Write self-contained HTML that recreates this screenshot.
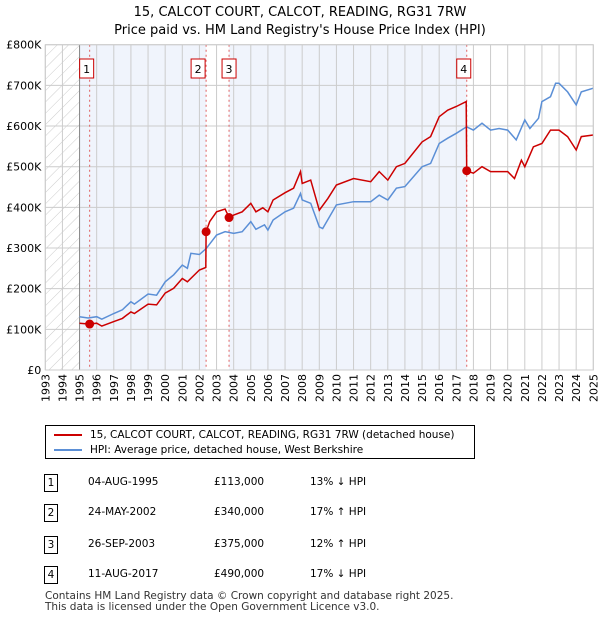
<!DOCTYPE html>
<html><head><meta charset="utf-8"><style>
body{margin:0;background:#fff;font-family:"DejaVu Sans","Liberation Sans",sans-serif;}
#wrap{position:relative;width:600px;height:620px;overflow:hidden}
svg text{font-family:"DejaVu Sans","Liberation Sans",sans-serif}
</style></head><body><div id="wrap">
<svg id="chart" width="600" height="620">
<defs><pattern id="hatch" width="8" height="8" patternUnits="userSpaceOnUse" patternTransform="rotate(45)"><line x1="0" y1="0" x2="0" y2="8" stroke="#ccc" stroke-width="1"/></pattern></defs>
<text x="300" y="16" text-anchor="middle" font-size="13">15, CALCOT COURT, CALCOT, READING, RG31 7RW</text>
<text x="300" y="34" text-anchor="middle" font-size="13">Price paid vs. HM Land Registry's House Price Index (HPI)</text>
<g id="plot"></g>
</svg>
<div style="position:absolute;left:45px;top:425px;width:428px;height:32px;border:1px solid #000;font-size:10.5px">
<div style="position:absolute;left:8px;top:3px;white-space:nowrap"><span style="display:inline-block;width:28px;height:2px;background:#cc0000;vertical-align:middle;margin-right:8px"></span>15, CALCOT COURT, CALCOT, READING, RG31 7RW (detached house)</div>
<div style="position:absolute;left:8px;top:18px;white-space:nowrap"><span style="display:inline-block;width:28px;height:2px;background:#5b8fd6;vertical-align:middle;margin-right:8px"></span>HPI: Average price, detached house, West Berkshire</div>
</div>
<div id="table" style="font-size:10.5px"></div>
<div style="position:absolute;left:45px;top:591px;font-size:10.5px;color:#333;line-height:11px">Contains HM Land Registry data © Crown copyright and database right 2025.<br>This data is licensed under the Open Government Licence v3.0.</div>
</div>
<script>
const hpiYears=[1995,1995.5,1996,1996.3,1997,1997.5,1998,1998.2,1999,1999.5,2000,2000.5,2001,2001.3,2001.5,2002,2002.4,2003,2003.5,2004,2004.5,2005,2005.3,2005.8,2006,2006.3,2007,2007.5,2007.9,2008,2008.5,2009,2009.2,2010,2011,2012,2012.5,2013,2013.5,2014,2015,2015.5,2016,2016.5,2017,2017.6,2018,2018.5,2019,2019.5,2020,2020.5,2021,2021.3,2021.8,2022,2022.5,2022.8,2023,2023.5,2024,2024.3,2025];
const hpiValues=[131,128,131,125,139,148,168,162,187,184,217,234,258,250,287,284,299,332,340,336,340,365,346,357,344,369,389,398,434,418,410,352,348,406,414,414,430,418,447,451,500,508,557,570,582,598,590,607,590,594,590,566,615,594,619,660,672,705,705,684,652,684,693];
const redYears=[1995,1995.59,1996,1996.3,1997,1997.5,1998,1998.2,1999,1999.5,2000,2000.5,2001,2001.3,2002,2002.37,2002.39,2002.6,2003,2003.5,2003.73,2004,2004.5,2005,2005.3,2005.7,2006,2006.3,2007,2007.5,2007.9,2008,2008.5,2009,2009.5,2010,2011,2012,2012.5,2013,2013.5,2014,2015,2015.5,2016,2016.5,2017,2017.58,2017.61,2018,2018.5,2019,2020,2020.4,2020.8,2021,2021.5,2022,2022.5,2023,2023.5,2024,2024.3,2025];
const redValues=[115,113,115,108,119,127,143,139,162,160,189,201,225,217,246,252,340,365,389,396,375,381,389,410,389,399,389,418,436,447,488,459,467,393,422,455,471,463,488,467,500,508,561,574,623,639,648,660,490,484,500,488,488,471,516,500,549,557,590,590,574,541,574,578];
const saleLabels=["1","2","3","4"];
const saleYears=[1995.59,2002.39,2003.73,2017.61];
const salePrices=[113,340,375,490];
const saleDates=["04-AUG-1995","24-MAY-2002","26-SEP-2003","11-AUG-2017"];
const salePriceText=["£113,000","£340,000","£375,000","£490,000"];
const saleHpiText=["13% ↓ HPI","17% ↑ HPI","12% ↑ HPI","17% ↓ HPI"];
const yTicks=[0,100,200,300,400,500,600,700,800];
const yTickLabels=["£0","£100K","£200K","£300K","£400K","£500K","£600K","£700K","£800K"];
const X0=45.3,X1=593.3,Y0=370,Y1=44.7;
const xs=y=>X0+(y-1993)/32*(X1-X0);
const ys=v=>Y0-(v/800)*(Y0-Y1);
const NS="http://www.w3.org/2000/svg";
const g=document.getElementById('plot');
function mk(t,a,p){const e=document.createElementNS(NS,t);for(const k in a)e.setAttribute(k,a[k]);(p||g).appendChild(e);return e;}
let e;
e=mk('rect',{x:xs(1993),y:Y1,width:xs(1995)-xs(1993),height:Y0-Y1,fill:'url(#hatch)'});

e=mk('rect',{x:xs(1995),y:Y1,width:xs(saleYears[1])-xs(1995),height:Y0-Y1,fill:'#f0f4fc'});

e=mk('rect',{x:xs(saleYears[2]),y:Y1,width:xs(saleYears[3])-xs(saleYears[2]),height:Y0-Y1,fill:'#f0f4fc'});

for(let yr=1993;yr<=2025;yr++){
 e=mk('line',{x1:xs(yr),x2:xs(yr),y1:Y1,y2:Y0,stroke:'#cccccc','stroke-width':1});
 
 e=mk('text',{transform:`translate(${xs(yr)+4},${Y0+4}) rotate(-90)`,'text-anchor':'end','font-size':11});
 e.textContent=yr;
 
}
yTicks.forEach((v,i)=>{
 e=mk('line',{x1:X0,x2:X1,y1:ys(v),y2:ys(v),stroke:'#cccccc','stroke-width':1});
 
 e=mk('text',{x:X0-4,y:ys(v)+4,'text-anchor':'end','font-size':11});
 e.textContent=yTickLabels[i];
 
});
e=mk('line',{x1:xs(1995),x2:xs(1995),y1:Y1,y2:Y0,stroke:'#888','stroke-width':1});

saleYears.forEach((y,i)=>{
 e=mk('line',{x1:xs(y),x2:xs(y),y1:Y1,y2:Y0,stroke:'#e06060','stroke-width':1,'stroke-dasharray':'2,3'});
 
});
function path(xa,va){return xa.map((x,i)=>(i?'L':'M')+xs(x).toFixed(1)+','+ys(va[i]).toFixed(1)).join('');}
e=mk('path',{d:path(hpiYears,hpiValues),fill:'none',stroke:'#5b8fd6','stroke-width':1.5});

e=mk('path',{d:path(redYears,redValues),fill:'none',stroke:'#cc0000','stroke-width':1.5});

saleYears.forEach((y,i)=>{
 e=mk('circle',{cx:xs(y),cy:ys(salePrices[i]),r:4.5,fill:'#cc0000'});
 
 let left=i==1?xs(y)-15:xs(y)-7;
 if(i==0)left=xs(y)-10; if(i==3)left=xs(y)-10;
 e=mk('rect',{x:left,y:59,width:14,height:19,fill:'#fff',stroke:'#cc0000','stroke-width':1});
 
 e=mk('text',{x:left+7,y:73,'text-anchor':'middle','font-size':11});
 e.textContent=saleLabels[i];
 
});
e=mk('rect',{x:X0,y:Y1,width:X1-X0,height:Y0-Y1,fill:'none',stroke:'#ccc'});

const tb=document.getElementById('table');
const rowY=[474,504,536,566];
saleLabels.forEach((l,i)=>{
 const r=document.createElement('div');
 
 
 r.style.cssText=`position:absolute;left:0;top:${rowY[i]}px;width:600px;height:18px`;
 r.innerHTML=`<span style="position:absolute;left:44px;top:0;width:12px;height:16px;border:1px solid #000;text-align:center;line-height:16px">${l}</span><span style="position:absolute;left:88px;top:2px">${saleDates[i]}</span><span style="position:absolute;left:214px;top:2px">${salePriceText[i]}</span><span style="position:absolute;left:310px;top:2px">${saleHpiText[i]}</span>`;
 tb.appendChild(r);
});
</script></body></html>
